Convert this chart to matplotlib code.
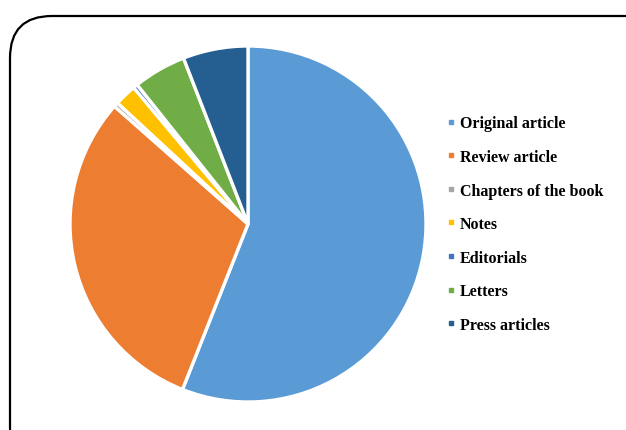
import matplotlib
matplotlib.use("Agg")
import matplotlib.pyplot as plt
from matplotlib.patches import FancyBboxPatch
from matplotlib.lines import Line2D

# ── Data ──
labels = ["Original article", "Review article", "Chapters of the book", "Notes",
          "Editorials", "Letters", "Press articles"]
shares = [56.0, 30.5, 0.4, 2.0, 0.4, 4.8, 5.9]
colors = ["#5B9BD5", "#ED7D31", "#A5A5A5", "#FFC000", "#4472C4", "#70AD47", "#255E91"]

W, H = 626, 431

fig = plt.figure(figsize=(W / 100, H / 100), dpi=100)
ax = fig.add_axes([0, 0, 1, 1])
ax.set_xlim(0, W)
ax.set_ylim(0, H)
ax.set_aspect("equal")
ax.axis("off")

# rounded frame (runs off the right and bottom edges)
frame = FancyBboxPatch((10, -40), 660, 454, boxstyle="round,pad=0,rounding_size=42",
                       fill=False, edgecolor="black", linewidth=1.6)
ax.add_patch(frame)

ax.pie(shares, colors=colors, startangle=90, counterclock=False,
       center=(248, H - 225), radius=178,
       wedgeprops=dict(edgecolor="white", linewidth=2.4))
ax.set_xlim(0, W)
ax.set_ylim(0, H)

handles = [Line2D([0], [0], marker="s", linestyle="none", markersize=3.5,
                  markerfacecolor=c, markeredgecolor=c) for c in colors]
leg = ax.legend(handles, labels, loc="upper left", bbox_to_anchor=(432 / W, 1 - 102 / H),
                frameon=False, handlelength=0.55, handletextpad=0.3,
                labelspacing=1.1,
                prop=dict(family="Liberation Serif", weight="bold", size=11.5))

fig.savefig("out.png", dpi=100, facecolor="white")
